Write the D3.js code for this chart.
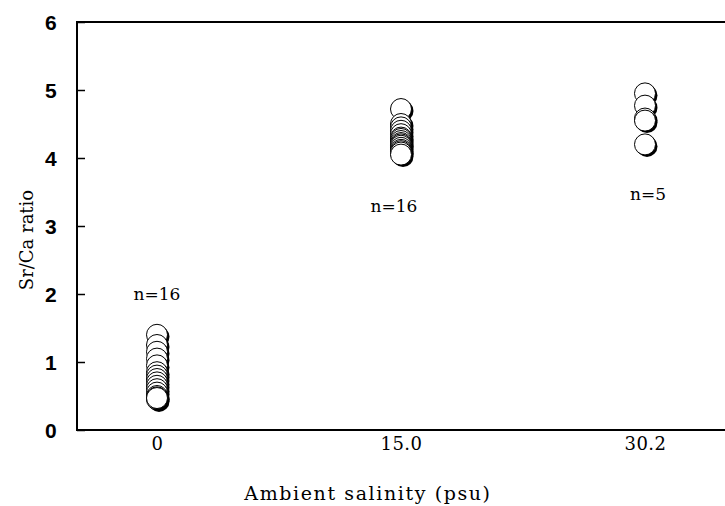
<!DOCTYPE html>
<html>
<head>
<meta charset="utf-8">
<script src="https://cdn.jsdelivr.net/npm/d3@7"></script>
<style>
  body { margin:0; background:#fff; }
  .ytick { font-family:"Liberation Sans Narrow", "Liberation Sans", Arial, sans-serif; font-weight:bold; font-size:21px; }
  .serif { font-family:"DejaVu Serif", "Liberation Serif", serif; }
</style>
</head>
<body>
<svg id="chart" width="725" height="506"></svg>
<script>
// salinity groups and Sr/Ca ratios
const salinity = ['0', '15.0', '30.2'];
const fresh = [1.40, 1.25, 1.15, 1.05, 0.95, 0.85, 0.80, 0.75, 0.70, 0.65, 0.60, 0.55, 0.50, 0.48, 0.45, 0.47];
const brackish = [4.72, 4.50, 4.45, 4.40, 4.35, 4.30, 4.28, 4.25, 4.22, 4.20, 4.18, 4.15, 4.12, 4.10, 4.08, 4.05];
const marine = [4.95, 4.77, 4.58, 4.55, 4.20];
const nLabels = ['n=16', 'n=16', 'n=5'];
const nLabelY = [2.0, 3.3, 3.47];
const nLabelDx = [0, -7, 3];
const yTicks = [0, 1, 2, 3, 4, 5, 6];

const groups = [fresh, brackish, marine];
const pts = [];
groups.forEach((g, i) => g.forEach(v => pts.push({ s: salinity[i], v })));

const svg = d3.select('#chart');
const x = d3.scalePoint().domain(salinity).range([157, 645]);
const y = d3.scaleLinear().domain([0, 6]).range([430, 22]);

// frame: left, top, bottom (right side runs off the page)
svg.append('path')
  .attr('d', `M 800 ${y(6)} H 77 V ${y(0)} H 800`)
  .attr('fill', 'none').attr('stroke', '#000').attr('stroke-width', 2);

const yAxis = svg.append('g').attr('transform', 'translate(77,0)')
  .call(d3.axisRight(y).tickValues(yTicks).tickSize(8).tickFormat(d3.format('d')));
yAxis.select('.domain').remove();
yAxis.selectAll('line').attr('stroke', '#000').attr('stroke-width', 1.5);
yAxis.selectAll('text').attr('class', 'ytick').attr('x', -32).attr('text-anchor', 'start')
  .attr('fill', '#000').attr('dy', '0.36em');

const xAxis = svg.append('g').attr('transform', `translate(0,${y(0)})`)
  .call(d3.axisBottom(x).tickSize(0).tickPadding(7));
xAxis.select('.domain').remove();
xAxis.selectAll('text').attr('class', 'serif').style('font-size', '18px').style('letter-spacing', '0.5px')
  .attr('fill', '#000').attr('dy', '0.71em');

svg.append('text').attr('class', 'serif').style('font-size', '19px').style('letter-spacing', '1.6px')
  .attr('x', 368).attr('y', 500).attr('text-anchor', 'middle')
  .text('Ambient salinity (psu)');
svg.append('text').attr('class', 'serif').style('font-size', '18px')
  .attr('transform', 'translate(33,240) rotate(-90)').attr('text-anchor', 'middle')
  .text('Sr/Ca ratio');

// circles with drop shadow
const dots = svg.append('g').selectAll('g').data(pts).join('g')
  .attr('transform', d => `translate(${x(d.s)},${y(d.v)})`);
dots.append('circle').attr('cx', 2).attr('cy', 2).attr('r', 10.5).attr('fill', '#000');
dots.append('circle').attr('r', 10.5).attr('fill', '#fff').attr('stroke', '#000').attr('stroke-width', 1);

svg.append('g').selectAll('text').data(salinity).join('text')
  .attr('class', 'serif').style('font-size', '17px').attr('text-anchor', 'middle')
  .attr('x', (d, i) => x(d) + nLabelDx[i]).attr('y', (d, i) => y(nLabelY[i]) + 6)
  .text((d, i) => nLabels[i]);
</script>
</body>
</html>
